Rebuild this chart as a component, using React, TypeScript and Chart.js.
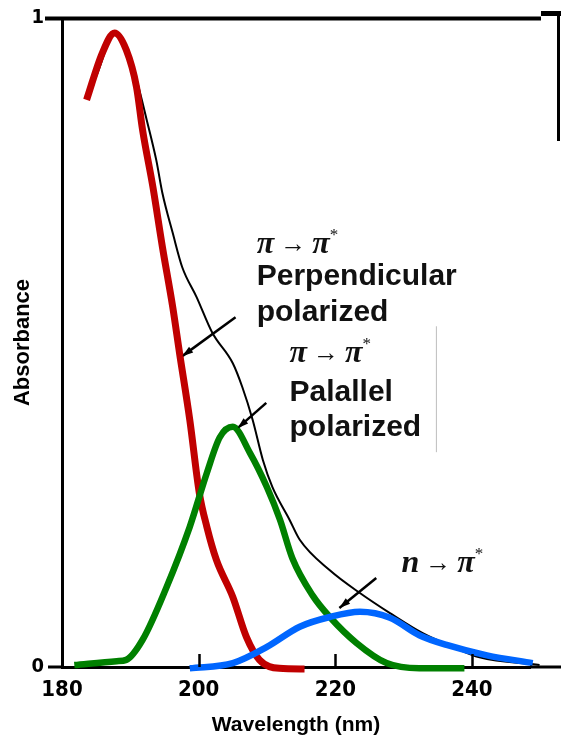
import React, { useEffect, useRef } from "react";
import { Chart, registerables } from "chart.js";

Chart.register(...registerables);

// ---- data ----
const X_TICKS = [180, 200, 220, 240];
const Y_TICKS = [0, 1];
const X_MIN = 180;
const X_MAX = 248.5;

const RED_X = [183.6, 185.9, 187.7, 189.4, 190.9, 191.8, 193.3, 194.7, 196.2, 197.2, 198.7, 200.1, 201.2, 202.6, 205.0, 207.0, 208.9, 211.8, 215.5];
const RED_Y = [0.874, 0.946, 0.977, 0.951, 0.894, 0.827, 0.74, 0.647, 0.555, 0.484, 0.381, 0.268, 0.216, 0.165, 0.108, 0.046, 0.011, -0.002, -0.003];

const BLACK_X = [185.0, 187.7, 189.4, 190.9, 192.4, 193.8, 194.7, 196.2, 197.6, 199.7, 202.0, 205.0, 206.4, 207.9, 209.4, 210.8, 213.3, 214.8, 219.2, 223.6, 228.0, 232.8, 237.2, 241.1, 249.9];
const BLACK_Y = [0.91, 0.974, 0.951, 0.905, 0.843, 0.781, 0.73, 0.669, 0.616, 0.57, 0.515, 0.468, 0.431, 0.381, 0.319, 0.277, 0.227, 0.196, 0.149, 0.114, 0.083, 0.052, 0.031, 0.015, 0.003];

const GREEN_X = [181.8, 188.0, 189.4, 191.8, 195.3, 198.7, 201.2, 203.1, 205.0, 207.5, 210.0, 211.9, 213.7, 216.7, 219.2, 223.1, 227.5, 232.3, 238.9];
const GREEN_Y = [0.003, 0.009, 0.011, 0.042, 0.123, 0.216, 0.299, 0.354, 0.37, 0.33, 0.277, 0.227, 0.168, 0.11, 0.077, 0.037, 0.006, -0.002, -0.002];

const BLUE_X = [198.7, 205.0, 210.0, 214.8, 219.2, 223.6, 228.0, 232.3, 236.3, 242.2, 248.9];
const BLUE_Y = [-0.002, 0.006, 0.031, 0.062, 0.077, 0.085, 0.076, 0.049, 0.034, 0.018, 0.006];

// leader arrows (tail -> head)
const ARROW1_X = [205.4, 197.6];
const ARROW1_Y = [0.539, 0.479];
const ARROW2_X = [209.9, 205.7];
const ARROW2_Y = [0.407, 0.368];
const ARROW3_X = [226.0, 220.6];
const ARROW3_Y = [0.137, 0.091];

const DIVIDER_X = [234.8, 234.8];
const DIVIDER_Y = [0.331, 0.525];

// annotation labels: [x, y, kind, text]
const LABELS: [number, number, string, string][] = [
  [208.5, 0.638, "math", "π"],
  [208.5, 0.589, "word", "Perpendicular"],
  [208.5, 0.533, "word", "polarized"],
  [213.3, 0.47, "math", "π"],
  [213.3, 0.41, "word", "Palallel"],
  [213.3, 0.356, "word", "polarized"],
  [229.7, 0.146, "math", "n"],
];

const zip = (xs: number[], ys: number[]) => xs.map((x, i) => ({ x, y: ys[i] }));

const decorPlugin = {
  id: "decor",
  afterDatasetsDraw(chart: any) {
    const ctx = chart.ctx;
    const xs = chart.scales.x;
    const ys = chart.scales.y;
    const area = chart.chartArea;
    ctx.save();

    // arrowheads on leader lines
    chart.data.datasets.forEach((ds: any, i: number) => {
      if (!ds.isArrow) return;
      const meta = chart.getDatasetMeta(i);
      const p0 = meta.data[0];
      const p1 = meta.data[1];
      const ang = Math.atan2(p1.y - p0.y, p1.x - p0.x);
      const L = 11;
      const W = 3.5;
      ctx.fillStyle = "#000";
      ctx.beginPath();
      ctx.moveTo(p1.x, p1.y);
      ctx.lineTo(p1.x - L * Math.cos(ang) + W * Math.sin(ang), p1.y - L * Math.sin(ang) - W * Math.cos(ang));
      ctx.lineTo(p1.x - L * Math.cos(ang) - W * Math.sin(ang), p1.y - L * Math.sin(ang) + W * Math.cos(ang));
      ctx.closePath();
      ctx.fill();
    });

    // inward tick marks
    ctx.strokeStyle = "#000";
    ctx.lineWidth = 2.5;
    X_TICKS.slice(1).forEach((v) => {
      const px = Math.round(xs.getPixelForValue(v)) + 0.5;
      ctx.beginPath();
      ctx.moveTo(px, area.bottom);
      ctx.lineTo(px, area.bottom - 13);
      ctx.stroke();
    });

    // frame pieces beyond the plot area
    ctx.fillStyle = "#000";
    ctx.fillRect(48, area.bottom - 1.5, area.left - 48, 3);
    ctx.fillRect(area.right, area.bottom - 1.5, chart.width - area.right, 3);
    ctx.fillRect(45, area.top - 1.5, 496, 4);
    ctx.fillRect(541, area.top - 7, 20, 5);
    ctx.fillRect(557, area.top - 7, 3, 130);

    // annotation labels
    ctx.fillStyle = "#111";
    ctx.textBaseline = "alphabetic";
    ctx.textAlign = "left";
    const mathFont = 'bold italic 32px "Liberation Serif", "DejaVu Serif", serif';
    LABELS.forEach(([vx, vy, kind, text]) => {
      const px = xs.getPixelForValue(vx);
      const py = ys.getPixelForValue(vy);
      if (kind === "word") {
        ctx.font = 'bold 30px "Liberation Sans", Arial, sans-serif';
        ctx.fillText(text, px, py);
      } else {
        let x = px;
        ctx.font = mathFont;
        ctx.fillText(text, x, py);
        x += ctx.measureText(text).width + 6;
        ctx.font = '26px "Liberation Serif", "DejaVu Serif", serif';
        ctx.fillText("→", x, py - 1);
        x += ctx.measureText("→").width + 6;
        ctx.font = mathFont;
        ctx.fillText("π", x, py);
        x += ctx.measureText("π").width;
        ctx.font = '17px "Liberation Serif", "DejaVu Serif", serif';
        ctx.fillText("*", x, py - 13);
      }
    });
    ctx.restore();
  },
};

export default function App() {
  const ref = useRef<HTMLCanvasElement | null>(null);

  useEffect(() => {
    if (!ref.current) return;
    const curve = (data: any, color: string, width: number, order: number) => ({
      data,
      borderColor: color,
      backgroundColor: color,
      borderWidth: width,
      pointRadius: 0,
      fill: false,
      cubicInterpolationMode: "monotone",
      clip: false,
      order,
    });
    const straight = (data: any, color: string, width: number, order: number, isArrow: boolean) => ({
      data,
      borderColor: color,
      borderWidth: width,
      pointRadius: 0,
      fill: false,
      tension: 0,
      clip: false,
      order,
      isArrow,
    });

    const chart = new Chart(ref.current, {
      type: "line",
      data: {
        datasets: [
          curve(zip(BLUE_X, BLUE_Y), "#0066ff", 6.5, 1),
          curve(zip(GREEN_X, GREEN_Y), "#008000", 6.5, 2),
          curve(zip(RED_X, RED_Y), "#c00000", 7, 3),
          curve(zip(BLACK_X, BLACK_Y), "#000000", 2, 4),
          straight(zip(ARROW1_X, ARROW1_Y), "#000", 2.5, 5, true),
          straight(zip(ARROW2_X, ARROW2_Y), "#000", 2.5, 5, true),
          straight(zip(ARROW3_X, ARROW3_Y), "#000", 2.5, 5, true),
          straight(zip(DIVIDER_X, DIVIDER_Y), "#bdbdbd", 1, 6, false),
        ] as any,
      },
      options: {
        animation: false,
        responsive: false,
        devicePixelRatio: 1,
        layout: { padding: { top: 18, right: 31, bottom: 0, left: 0 } },
        plugins: { legend: { display: false }, tooltip: { enabled: false } },
        scales: {
          x: {
            type: "linear",
            min: X_MIN,
            max: X_MAX,
            afterBuildTicks: (s: any) => {
              s.ticks = X_TICKS.map((v) => ({ value: v }));
            },
            afterFit: (s: any) => {
              s.height = 71;
              s.paddingLeft = 0;
              s.paddingRight = 0;
            },
            grid: { display: false, drawTicks: false },
            border: { display: true, width: 3, color: "#000" },
            ticks: {
              color: "#000",
              padding: 10,
              maxRotation: 0,
              autoSkip: false,
              font: { family: '"Liberation Sans Narrow", "DejaVu Sans Condensed", sans-serif', size: 22, weight: "bold" },
            },
            title: {
              display: true,
              text: "Wavelength (nm)",
              color: "#000",
              padding: { top: 0, bottom: 0 },
              font: { family: '"Liberation Sans", Arial, sans-serif', size: 21, weight: "bold" },
            },
          },
          y: {
            type: "linear",
            min: 0,
            max: 1,
            afterBuildTicks: (s: any) => {
              s.ticks = Y_TICKS.map((v) => ({ value: v }));
            },
            afterFit: (s: any) => {
              s.width = 62;
              s.paddingTop = 0;
              s.paddingBottom = 0;
            },
            grid: { display: false, drawTicks: false },
            border: { display: true, width: 3, color: "#000" },
            ticks: {
              color: "#000",
              padding: 18,
              font: { family: '"Liberation Sans Narrow", "DejaVu Sans Condensed", sans-serif', size: 20, weight: "bold" },
            },
            title: {
              display: true,
              text: "Absorbance",
              color: "#000",
              padding: { top: 10, bottom: 0 },
              font: { family: '"Liberation Sans", Arial, sans-serif', size: 22, weight: "bold" },
            },
          },
        },
      } as any,
      plugins: [decorPlugin],
    });
    return () => chart.destroy();
  }, []);

  return (
    <div style={{ position: "fixed", left: 0, top: 0, width: 561, height: 738, background: "#fff" }}>
      <canvas ref={ref} width={561} height={738} style={{ display: "block" }} />
    </div>
  );
}
